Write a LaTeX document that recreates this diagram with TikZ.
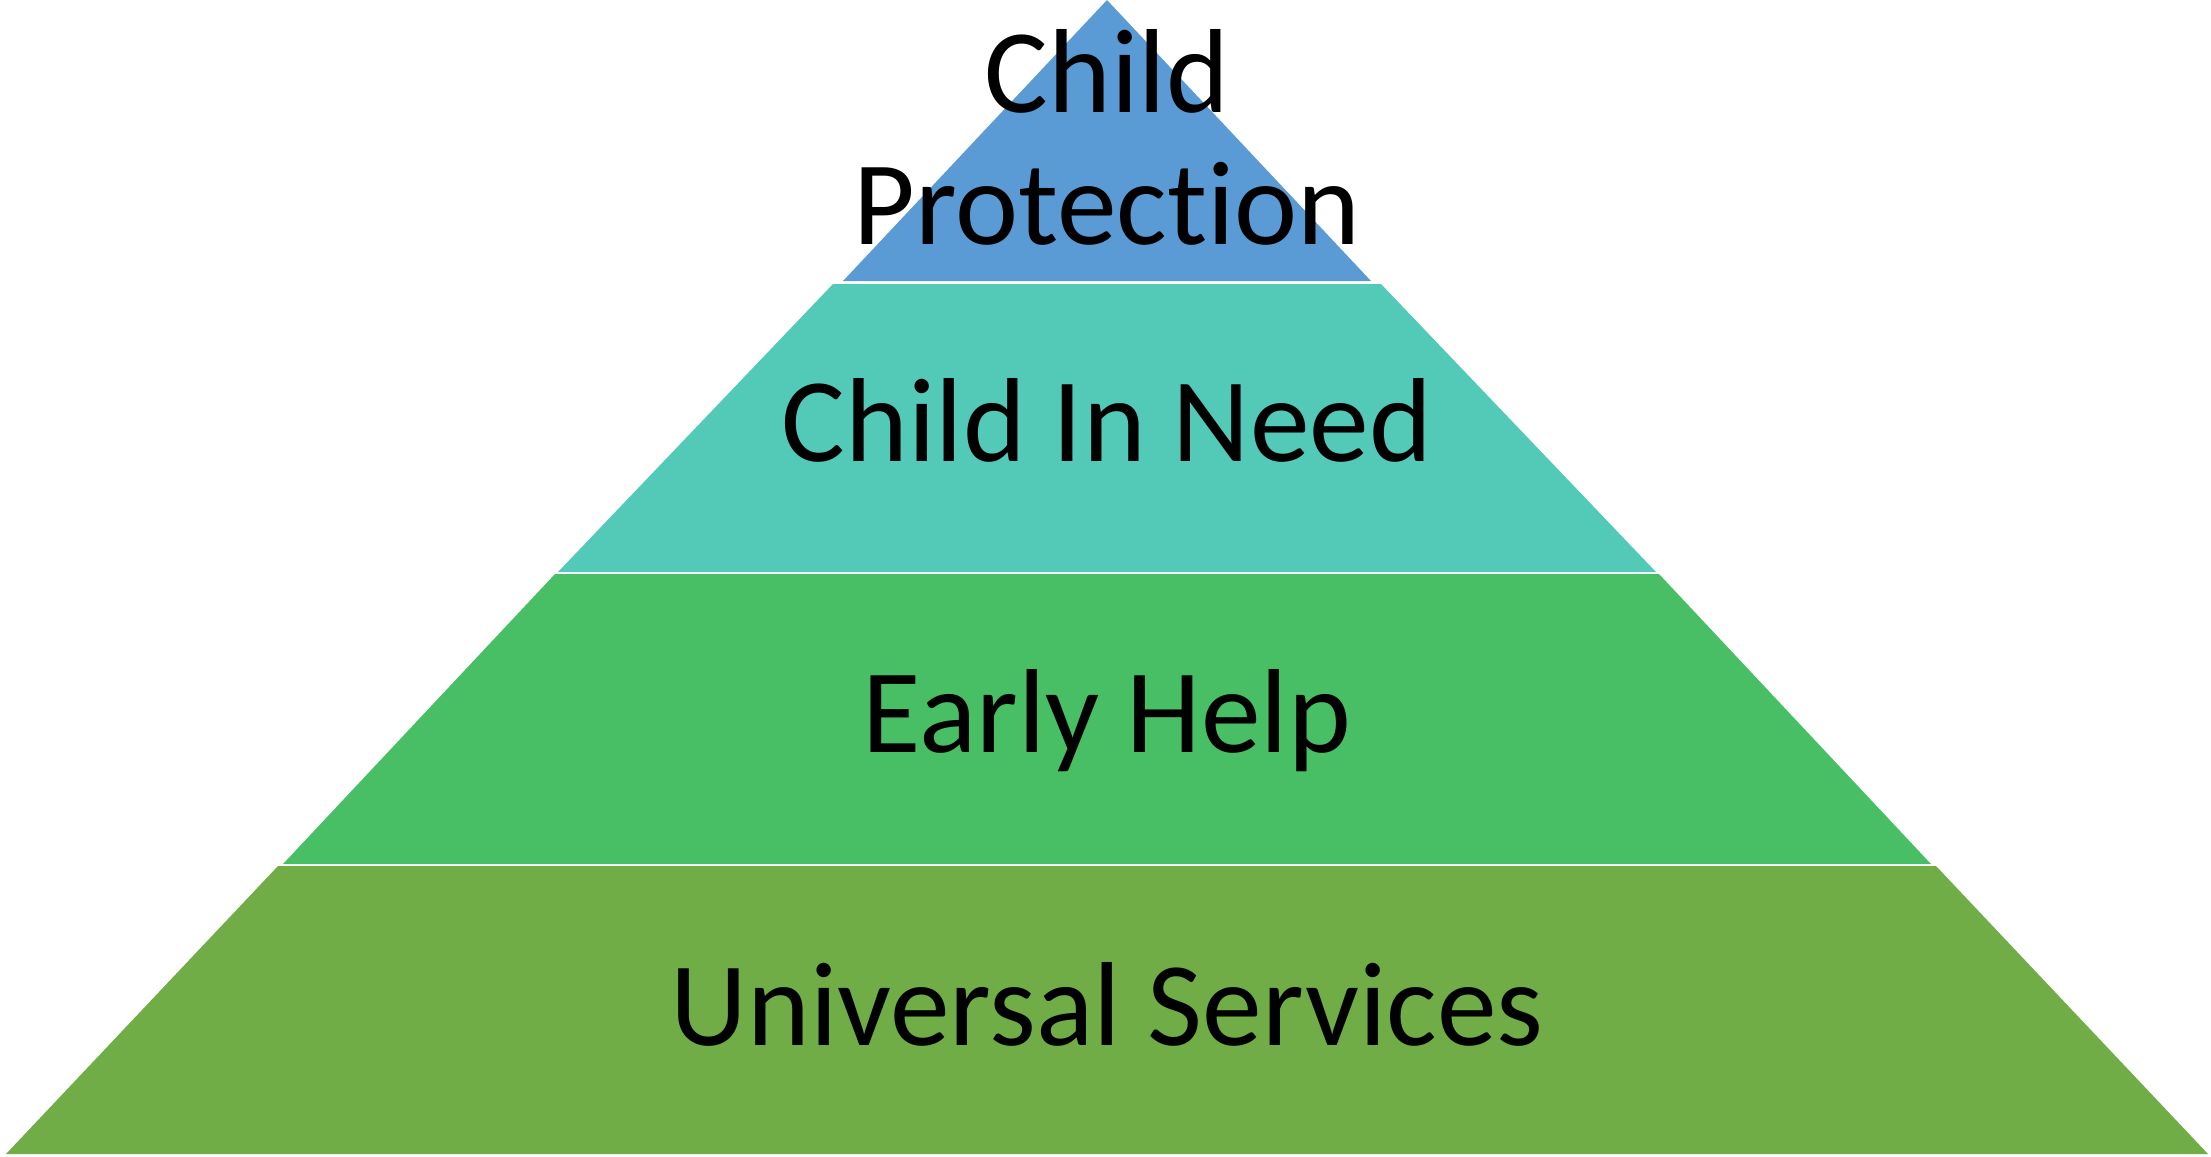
\documentclass[tikz,border=0pt]{standalone}
\usepackage{fontspec}
\setmainfont[Ligatures={NoCommon}]{Carlito}
\definecolor{cpblue}{HTML}{5B9BD5}
\definecolor{cinteal}{HTML}{53C9B7}
\definecolor{ehgreen}{HTML}{49BF65}
\definecolor{usolive}{HTML}{70AD47}
\begin{document}
\begin{tikzpicture}[x=0.01cm,y=-0.01cm,
  lbl/.style={anchor=base,inner sep=0pt,font=\fontsize{34}{40}\selectfont,text=black}]
\useasboundingbox (0,0) rectangle (2211,1157);
\fill[cpblue] (1107,0) -- (1371,281) -- (843,281) -- cycle;
\fill[cinteal] (833,284) -- (1381,284) -- (1656,572) -- (558,572) -- cycle;
\fill[ehgreen] (555,574) -- (1659,574) -- (1931,864) -- (283,864) -- cycle;
\fill[usolive] (278,866) -- (1936,866) -- (2208,1154) -- (6,1154) -- cycle;
\node[lbl] (cp1) at (1107,112) {Child};
\node[lbl] (cp2) at (1107,244) {Protection};
\node[lbl] (cin) at (1107,461) {Child In Need};
\node[lbl] (eh) at (1107,752) {Early Help};
\node[lbl] (us) at (1107,1045) {Universal Services};
\end{tikzpicture}
\end{document}
